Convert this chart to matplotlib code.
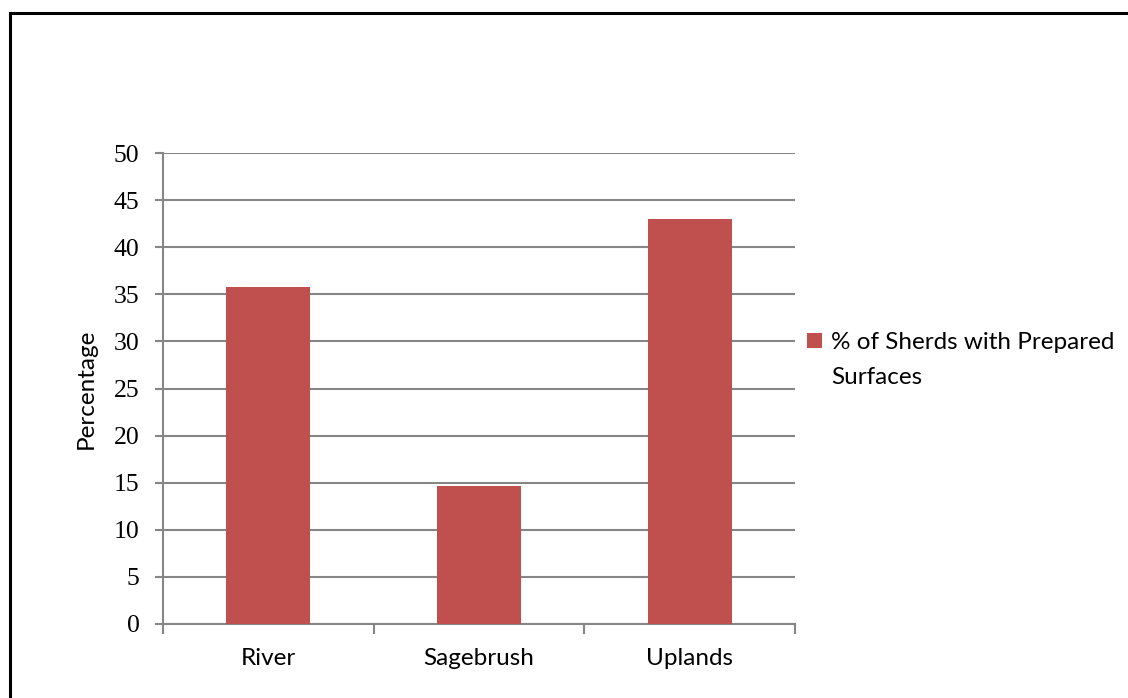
import matplotlib
matplotlib.use('Agg')
import matplotlib.pyplot as plt
from matplotlib.patches import Patch
import numpy as np

categories = ['River', 'Sagebrush', 'Uplands']
values = [35.8, 14.7, 43.0]
series_name = '% of Sherds with Prepared'
series_name2 = 'Surfaces'
yticks = [0, 5, 10, 15, 20, 25, 30, 35, 40, 45, 50]

bar_color = '#C0504D'
grid_color = '#868686'
sans = 'Lato'

fig = plt.figure(figsize=(11.28, 6.98), dpi=100)
ax = fig.add_axes([163 / 1128, 1 - 624 / 698, (795 - 163) / 1128, (624 - 153) / 698])

x = np.arange(len(categories))
ax.bar(x, values, width=0.4, color=bar_color, zorder=3)

ax.set_xlim(-0.5, len(categories) - 0.5)
ax.set_ylim(0, 50)
ax.set_yticks(yticks)
ax.set_yticklabels([str(t) for t in yticks], fontfamily='Liberation Serif', fontsize=18.5)
ax.set_xticks(x)
ax.set_xticklabels(categories, fontfamily=sans, fontsize=17.5)
ax.tick_params(axis='x', length=0, pad=17)
ax.tick_params(axis='y', length=6, width=1.5, color=grid_color, pad=11)
# tick marks between categories
ax.set_xticks(np.arange(len(categories) + 1) - 0.5, minor=True)
ax.tick_params(axis='x', which='minor', length=7, width=1.5, color=grid_color)

ax.grid(axis='y', color=grid_color, linewidth=1.5, zorder=0)
for s in ['top', 'right']:
    ax.spines[s].set_visible(False)
for s in ['left', 'bottom']:
    ax.spines[s].set_color(grid_color)
    ax.spines[s].set_linewidth(1.5)

ax.set_ylabel('Percentage', fontfamily=sans, fontsize=17.5, labelpad=12)

handles = [Patch(facecolor=bar_color), Patch(facecolor='none', edgecolor='none')]
leg = fig.legend(handles, [series_name, series_name2], loc='upper left',
                 bbox_to_anchor=(795 / 1128, 1 - 320 / 698), frameon=False,
                 prop={'family': sans, 'size': 17.5}, handlelength=0.6, handleheight=0.6,
                 handletextpad=0.4, labelspacing=0.55, borderpad=0)

# outer frame (top and left edges)
fig.add_artist(plt.Line2D([10 / 1128, 1], [1 - 13 / 698, 1 - 13 / 698], color='black', linewidth=2.2))
fig.add_artist(plt.Line2D([10 / 1128, 10 / 1128], [0, 1 - 13 / 698], color='black', linewidth=2.2))

fig.savefig('out.png', dpi=100)
